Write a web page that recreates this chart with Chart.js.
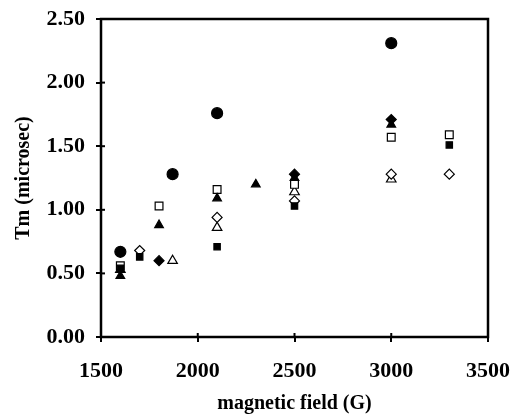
<!DOCTYPE html>
<html>
<head>
<meta charset="utf-8">
<script src="https://cdn.jsdelivr.net/npm/chart.js@4"></script>
<style>
  html, body { margin: 0; padding: 0; background: #fff; }
  #wrap { width: 513px; height: 416px; }
</style>
</head>
<body>
<div id="wrap"><canvas id="tm-chart"></canvas></div>
<script>
(() => {
    // field values (G) and Tm (microsec)
    const filledCircleX = [1600, 1870, 2100, 3000];
    const filledCircleY = [0.67, 1.28, 1.76, 2.31];
    const filledDiamondX = [1800, 2500, 3000];
    const filledDiamondY = [0.60, 1.28, 1.71];
    const filledTriangleX = [1600, 1800, 2100, 2300, 2500, 3000];
    const filledTriangleY = [0.48, 0.88, 1.09, 1.20, 1.25, 1.67];
    const filledSquareX = [1600, 1700, 2100, 2500, 3300];
    const filledSquareY = [0.54, 0.63, 0.71, 1.03, 1.51];
    const openSquareX = [1600, 1800, 2100, 2500, 3000, 3300];
    const openSquareY = [0.56, 1.03, 1.16, 1.20, 1.57, 1.59];
    const openDiamondX = [1700, 2100, 2500, 3000, 3300];
    const openDiamondY = [0.68, 0.94, 1.07, 1.28, 1.28];
    const openTriangleX = [1600, 1870, 2100, 2500, 3000];
    const openTriangleY = [0.53, 0.60, 0.86, 1.14, 1.24];

    const xTicks = [1500, 2000, 2500, 3000, 3500];
    const yTicks = [0, 0.5, 1.0, 1.5, 2.0, 2.5];

    const pts = (xs, ys) => xs.map((x, i) => ({ x: x, y: ys[i] }));

    const serif = "'Liberation Serif', 'Times New Roman', serif";

    const series = [
        { label: 'filled circle', data: pts(filledCircleX, filledCircleY), style: 'circle', fill: '#000', r: 5.5 },
        { label: 'filled diamond', data: pts(filledDiamondX, filledDiamondY), style: 'rectRot', fill: '#000', r: 5 },
        { label: 'filled triangle', data: pts(filledTriangleX, filledTriangleY), style: 'triangle', fill: '#000', r: 5 },
        { label: 'filled square', data: pts(filledSquareX, filledSquareY), style: 'rect', fill: '#000', r: 4.5 },
        { label: 'open square', data: pts(openSquareX, openSquareY), style: 'rect', fill: '#fff', r: 5.5 },
        { label: 'open diamond', data: pts(openDiamondX, openDiamondY), style: 'rectRot', fill: '#fff', r: 5 },
        { label: 'open triangle', data: pts(openTriangleX, openTriangleY), style: 'triangle', fill: '#fff', r: 5.5 }
    ];

    const frame = {
        id: 'frame',
        afterDraw(chart) {
            const a = chart.chartArea;
            const c = chart.ctx;
            c.save();
            c.strokeStyle = '#000';
            c.lineWidth = 2.5;
            c.strokeRect(a.left, a.top, a.right - a.left, a.bottom - a.top);
            // small ticks crossing into the plot
            c.lineWidth = 2;
            chart.scales.x.ticks.forEach(t => {
                const px = chart.scales.x.getPixelForValue(t.value);
                c.beginPath(); c.moveTo(px, a.bottom); c.lineTo(px, a.bottom - 4); c.stroke();
            });
            chart.scales.y.ticks.forEach(t => {
                const py = chart.scales.y.getPixelForValue(t.value);
                c.beginPath(); c.moveTo(a.left, py); c.lineTo(a.left + 4, py); c.stroke();
            });
            c.restore();
        }
    };

    const ctx = document.getElementById('tm-chart').getContext('2d');
    new Chart(ctx, {
        type: 'scatter',
        data: {
            datasets: series.map(s => ({
                label: s.label,
                data: s.data,
                pointStyle: s.style,
                pointRadius: s.r,
                pointHoverRadius: s.r,
                pointBackgroundColor: s.fill,
                pointBorderColor: '#000',
                pointBorderWidth: 1.2
            }))
        },
        options: {
            responsive: true,
            maintainAspectRatio: false,
            animation: false,
            layout: { padding: { top: 19, right: 25, left: 0, bottom: 0 } },
            plugins: { legend: { display: false }, tooltip: { enabled: false } },
            scales: {
                x: {
                    type: 'linear',
                    min: 1500,
                    max: 3500,
                    afterBuildTicks: scale => { scale.ticks = xTicks.map(v => ({ value: v })); },
                    afterFit: scale => { scale.height = 79; scale.paddingLeft = 0; scale.paddingRight = 0; },
                    grid: { drawOnChartArea: false, color: '#000', tickColor: '#000', tickLength: 5, lineWidth: 2 },
                    border: { display: false },
                    ticks: { color: '#000', padding: 16, font: { family: serif, size: 22, weight: 'bold' },
                        callback: v => String(v) },
                    title: { display: true, text: 'magnetic field (G)', color: '#000', padding: { top: 0, bottom: 0 },
                        font: { family: serif, size: 20, weight: 'bold' } }
                },
                y: {
                    type: 'linear',
                    min: 0,
                    max: 2.5,
                    afterBuildTicks: scale => { scale.ticks = yTicks.map(v => ({ value: v })); },
                    afterFit: scale => { scale.width = 101; scale.paddingTop = 0; scale.paddingBottom = 0; },
                    grid: { drawOnChartArea: false, color: '#000', tickColor: '#000', tickLength: 5, lineWidth: 2 },
                    border: { display: false },
                    ticks: { color: '#000', padding: 11, font: { family: serif, size: 22, weight: 'bold' },
                        callback: v => Number(v).toFixed(2) },
                    title: { display: true, text: 'Tm (microsec)', color: '#000', padding: { top: 12, bottom: 0 },
                        font: { family: serif, size: 20, weight: 'bold' } }
                }
            }
        },
        plugins: [frame]
    });
})();
</script>
</body>
</html>
